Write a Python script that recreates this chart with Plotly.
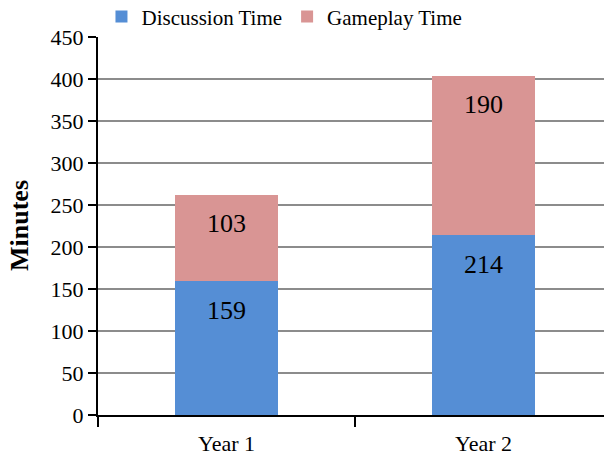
import plotly.graph_objects as go

categories = ["Year 1", "Year 2"]
discussion = [159, 214]
gameplay = [103, 190]
y_ticks = [0, 50, 100, 150, 200, 250, 300, 350, 400, 450]

FONT = "Liberation Serif"

fig = go.Figure()
fig.add_trace(go.Bar(
    x=categories, y=discussion, name="Discussion Time",
    marker=dict(color="#558ED5", line=dict(width=0)), width=0.4,
))
fig.add_trace(go.Bar(
    x=categories, y=gameplay, name="Gameplay Time",
    marker=dict(color="#D99594", line=dict(width=0)), width=0.4,
))

# data labels near the top of each segment
for i, cat in enumerate(categories):
    tops = [discussion[i], discussion[i] + gameplay[i]]
    vals = [discussion[i], gameplay[i]]
    for top, v in zip(tops, vals):
        fig.add_annotation(x=cat, y=top, text=str(v), showarrow=False,
                           yanchor="middle", yshift=-29,
                           font=dict(size=26, family=FONT, color="black"))

# y-axis title
fig.add_annotation(xref="paper", yref="paper", x=0, y=0.5, xshift=-79,
                   text="<b>Minutes</b>", textangle=-90, showarrow=False,
                   xanchor="center", yanchor="middle",
                   font=dict(size=26, family=FONT, color="black"))

fig.update_layout(
    barmode="stack",
    width=604, height=458,
    margin=dict(l=98, r=0, t=37, b=43, autoexpand=False),
    paper_bgcolor="white", plot_bgcolor="white",
    font=dict(family=FONT, size=22, color="black"),
    legend=dict(orientation="h", xref="container", x=0.168, xanchor="left",
                yref="container", y=0.963, yanchor="middle",
                font=dict(size=21, family=FONT), itemwidth=30, traceorder="normal",
                itemsizing="constant"),
    showlegend=True,
    xaxis=dict(
        range=[-0.5, 1.469], showgrid=False, showline=True, linecolor="black", linewidth=2,
        ticks="outside", tickson="boundaries", ticklen=10, tickwidth=2, tickcolor="black",
        tickfont=dict(size=22, family=FONT), ticklabelstandoff=8, fixedrange=True,
    ),
    yaxis=dict(
        range=[0, 450], tickvals=y_ticks, showgrid=True, gridcolor="#8c8c8c", gridwidth=1.5,
        showline=True, linecolor="black", linewidth=2, zeroline=False,
        ticks="outside", ticklen=8, tickwidth=2, tickcolor="black",
        tickfont=dict(size=22, family=FONT),
    ),
)

fig.write_html("out.html")
